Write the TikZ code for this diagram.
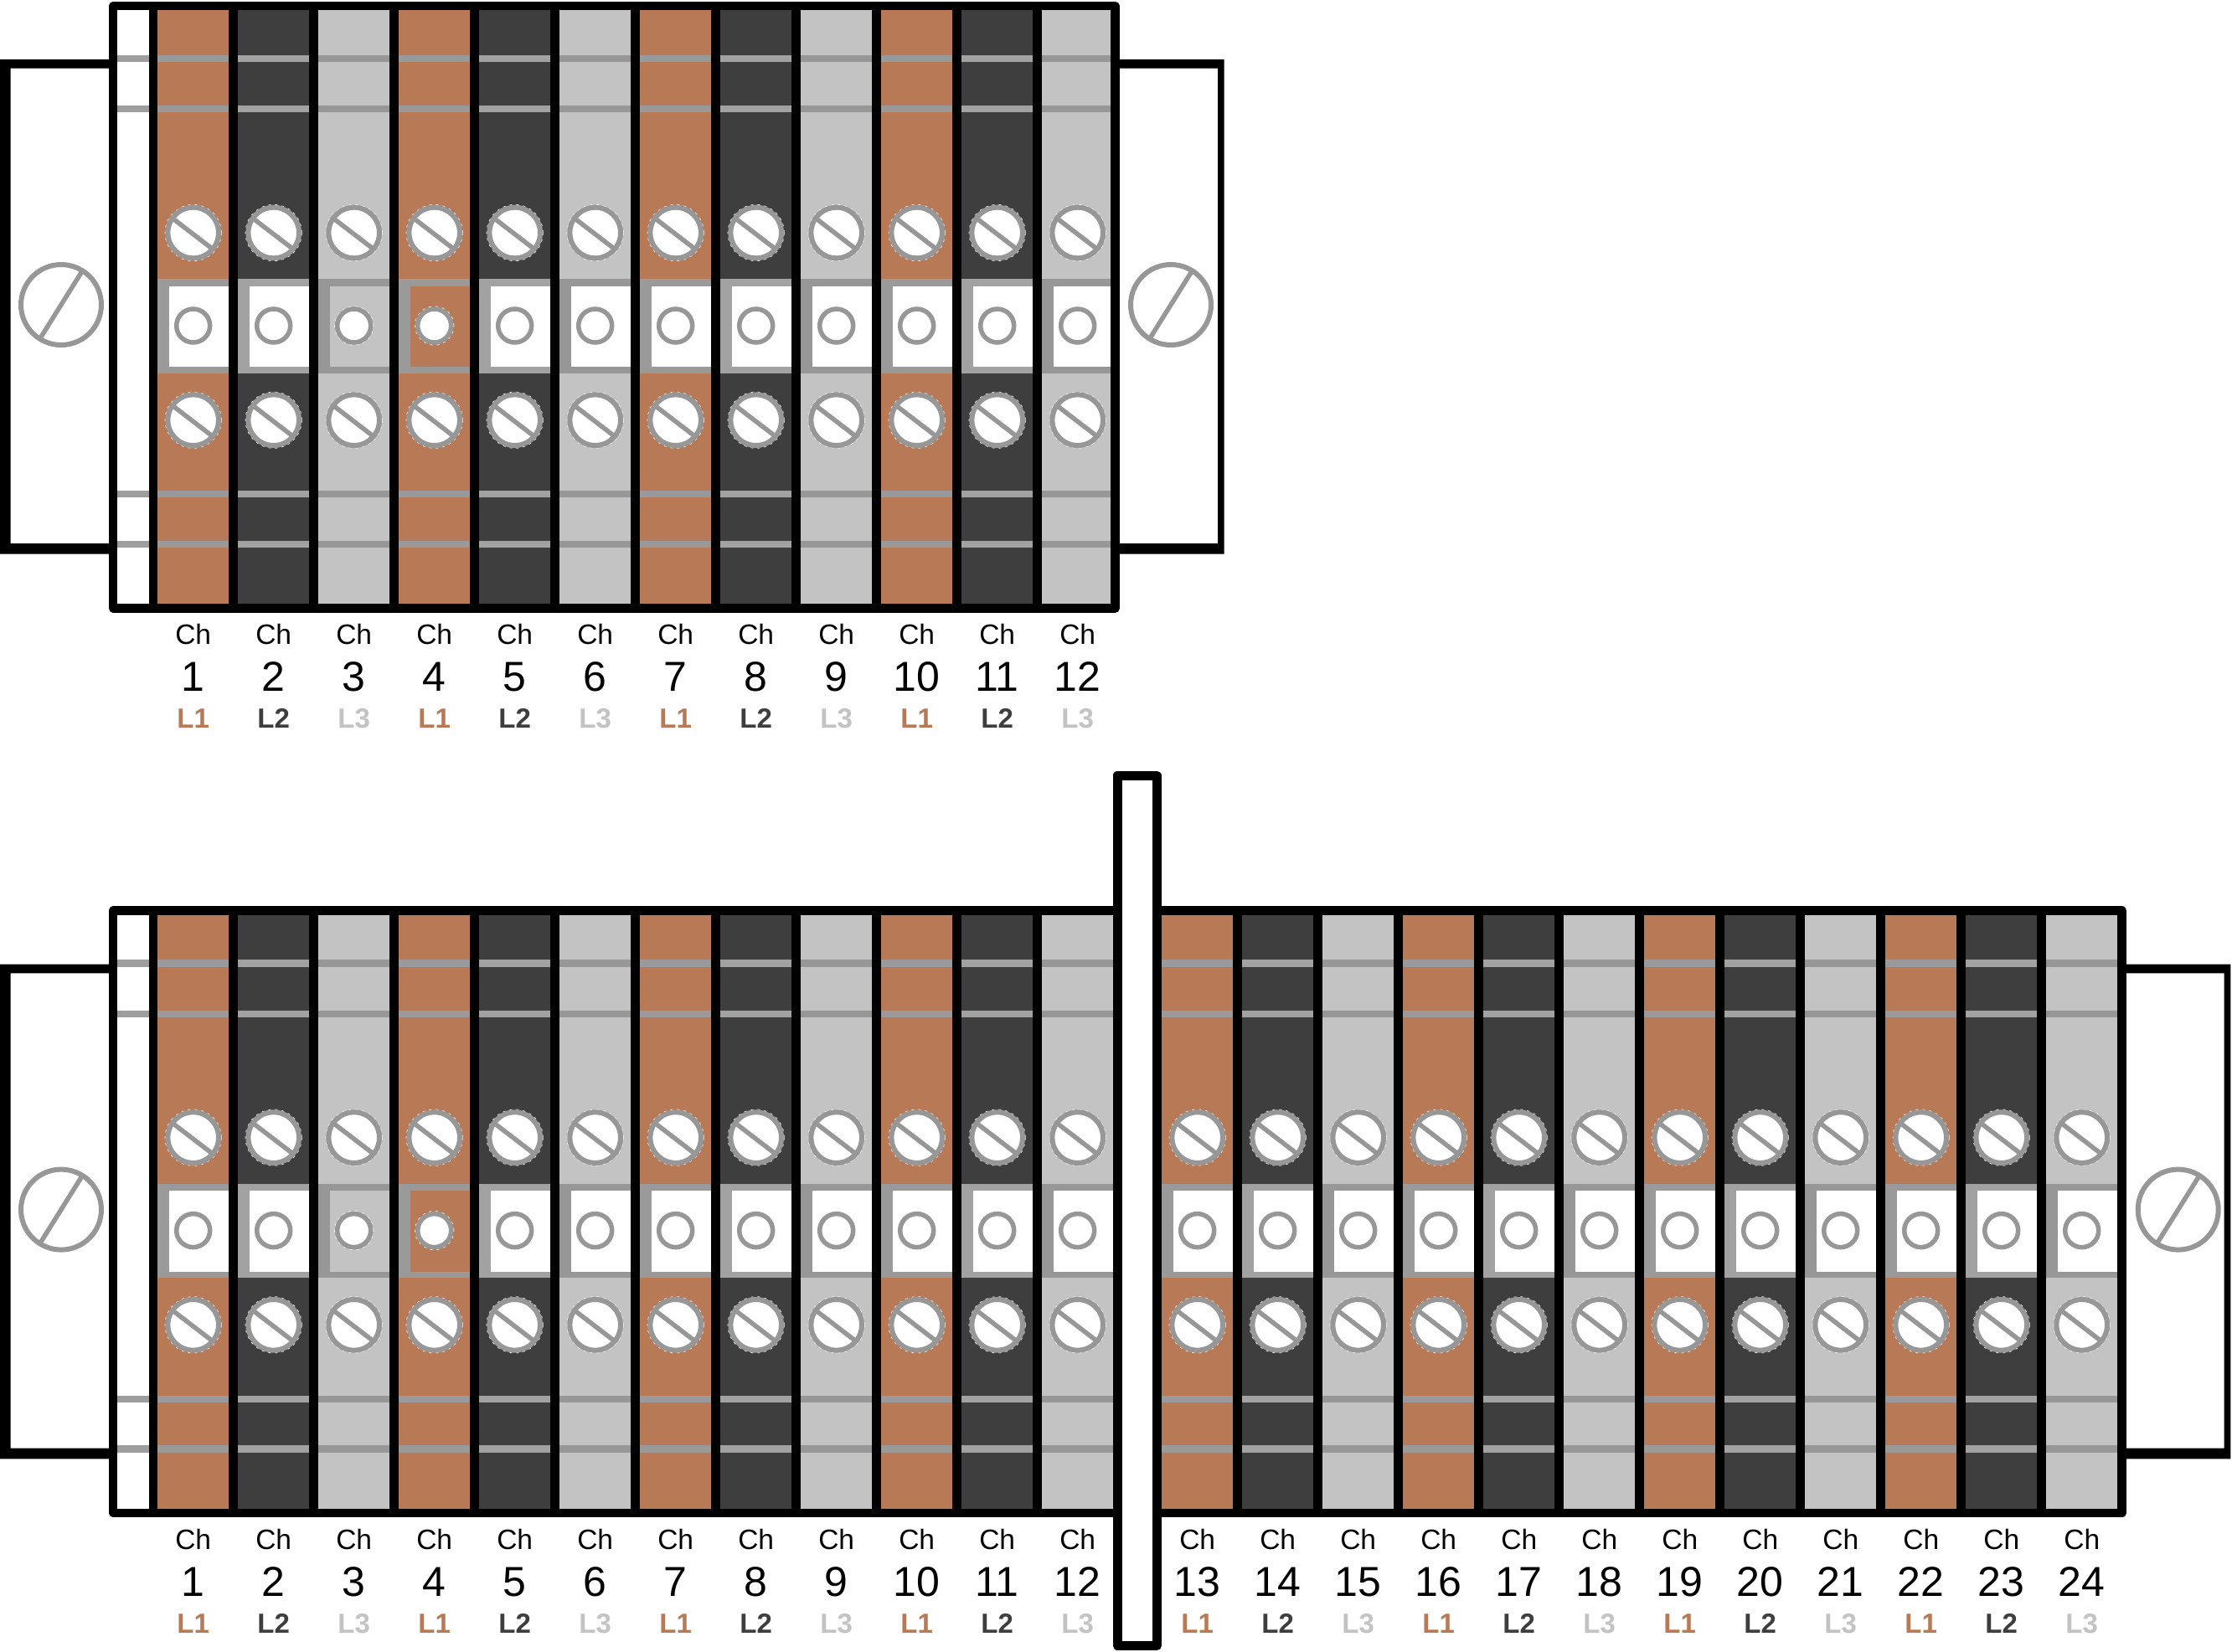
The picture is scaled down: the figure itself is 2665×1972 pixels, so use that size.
\documentclass[tikz,border=0pt]{standalone}
\usepackage{fontspec}
\setmainfont{Liberation Sans}
\definecolor{phase1}{HTML}{B87A56}
\definecolor{phase2}{HTML}{3E3E3E}
\definecolor{phase3}{HTML}{C3C3C3}
\definecolor{band0}{HTML}{9E9E9E}
\definecolor{band1}{HTML}{9A9A9A}
\definecolor{band2}{HTML}{A2A2A2}
\definecolor{band3}{HTML}{979797}
\definecolor{screwgray}{HTML}{979797}
\tikzset{
  boxline/.style={draw=black,line width=10.6pt,line join=round},
  screwring/.style={draw=screwgray,fill=white,line width=6pt},
  screwslash/.style={draw=screwgray,line width=5.5pt},
  halo/.style={draw=white,line width=.8pt,dash pattern=on 3pt off 5pt},
  chtext/.style={anchor=base,inner sep=0pt,font=\fontsize{33.5}{36}\selectfont},
  numtext/.style={anchor=base,inner sep=0pt,font=\fontsize{50}{54}\selectfont},
  phtext/.style={anchor=base,inner sep=0pt,font=\fontsize{33}{36}\selectfont\bfseries},
}
% one small screw
\newcommand{\clampscrew}[2]{
  \draw[halo] (#1,#2) circle (33.6pt);
  \draw[screwring] (#1,#2) circle (30.3pt);
  \draw[screwslash] ([shift={(145:30.3pt)}]#1,#2) -- ([shift={(-40:30.3pt)}]#1,#2);
}
% one big mounting screw
\newcommand{\railscrew}[2]{
  \draw[screwring] (#1,#2) circle (48pt);
  \draw[screwslash] ([shift={(58:48pt)}]#1,#2) -- ([shift={(238:48pt)}]#1,#2);
}
% one channel strip: bank, number, centre
\newcommand{\channelstrip}[3]{
  \pgfmathtruncatemacro{\ph}{mod(#2-1,3)+1}
  \fill[phase\ph] (#3-42.4,11) rectangle (#3+42.4,721.1);
  \foreach \ya/\yb in {65.7/74.3,126/134,586/594,645.7/654.3}
    \fill[band\ph] (#3-42.4,\ya) rectangle (#3+42.4,\yb);
  \fill[band\ph] (#3-42.4,333) rectangle (#3+42.4,445.7);
  \ifnum#2=3 \def\winfill{phase3}\else\ifnum#2=4 \def\winfill{phase1}\else\def\winfill{white}\fi\fi
  \fill[\winfill] (#3-28.9,341.7) rectangle (#3+42.4,438.3);
  \clampscrew{#3}{278}
  \clampscrew{#3}{501.7}
  \draw[halo] (#3,389) circle (23.2pt);
  \draw[screwring,line width=5.5pt] (#3,389) circle (20pt);
  \node[chtext] (#1ch#2) at (#3,769.5) {Ch};
  \node[numtext] (#1num#2) at (#3,825.5) {#2};
  \node[phtext,text=phase\ph] (#1ph#2) at (#3,869.5) {L\ph};
}
% white end column of a bank
\newcommand{\whitecolumn}{
  \fill[white] (140.3,11) rectangle (177.9,721.1);
  \foreach \ya/\yb in {65.7/74.3,126/134,586/594,645.7/654.3}
    \fill[band0] (140.3,\ya) rectangle (177.9,\yb);
}
\begin{document}
\begin{tikzpicture}[x=1pt,y=-1pt]
  \useasboundingbox (0,0) rectangle (2665,1972);
  % upper bank
  \fill[even odd rule] (0,71) rectangle (135,661.7) (12.6,81.7) rectangle (135,649);
  \fill[even odd rule] (1330,71) rectangle (1461.7,661.7) (1330,81.7) rectangle (1454,649);
  \fill[black] (135,7) rectangle (1331.4,726.4);
  \whitecolumn
  \foreach \n [evaluate=\n as \cx using 230.7+96*(\n-1)] in {1,...,12} {
    \channelstrip{a}{\n}{\cx}
  }
  \draw[boxline] (135,7) rectangle (1331.4,726.4);
  \railscrew{73}{364}
  \railscrew{1398}{364}
  % lower bank
  \begin{scope}[yshift=-1080.6pt]
    \fill[even odd rule] (0,71) rectangle (135,661.7) (12.6,81.7) rectangle (135,649);
    \fill[even odd rule] (2530,71) rectangle (2663.3,661.7) (2530,81.7) rectangle (2655.7,649);
    \fill[black] (135,7) rectangle (2533.7,726.4);
    \whitecolumn
    \foreach \n [evaluate=\n as \cx using 230.7+96*(\n-1)] in {1,...,12} {
      \channelstrip{b}{\n}{\cx}
    }
    \foreach \n [evaluate=\n as \cx using 1429.7+96*(\n-13)] in {13,...,24} {
      \channelstrip{b}{\n}{\cx}
    }
    \draw[boxline] (135,7) rectangle (2533.7,726.4);
    \railscrew{73}{364}
    \railscrew{2600.7}{364}
  \end{scope}
  % divider plate
  \draw[boxline,fill=white,line width=11pt] (1334,926.2) rectangle (1381.2,1965.3);
\end{tikzpicture}
\end{document}
